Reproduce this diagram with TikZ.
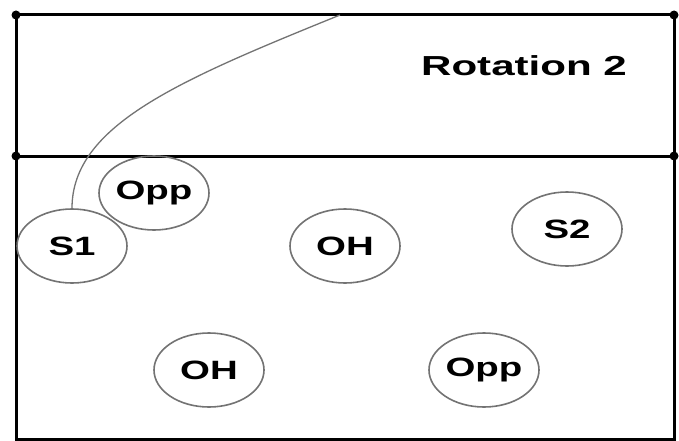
\documentclass[tikz,border=0pt]{standalone}
\usepackage{fontspec}
\setmainfont{Liberation Sans}
\usetikzlibrary{shapes.geometric}
\tikzset{
  court/.style={line width=3pt, black},
  player/.style={ellipse, draw=black!55, line width=1.6pt, minimum width=110pt, minimum height=74pt, inner sep=0pt,
    font=\fontsize{26.5}{26.5}\selectfont\bfseries},
  dotmark/.style={circle, fill=black, inner sep=0pt, minimum size=9pt},
  route/.style={draw=black!55, line width=1.3pt}
}
\newcommand{\widetxt}[1]{\scalebox{1.45}[1]{#1}}
\begin{document}
\begin{tikzpicture}[x=1pt, y=-1pt]
\useasboundingbox (0,0) rectangle (679,441);
\fill[white] (0,0) rectangle (679,441);
% court
\coordinate (tl) at (16,15);
\coordinate (tr) at (674,15);
\coordinate (ml) at (16,156);
\coordinate (mr) at (674,156);
\coordinate (bl) at (16,439);
\coordinate (br) at (674,439);
\draw[court] (tl) -- (tr) -- (br) -- (bl) -- cycle;
\draw[court] (ml) -- (mr);
\node[dotmark] (d1) at (tl) {};
\node[dotmark] (d2) at (tr) {};
\node[dotmark] (d3) at (ml) {};
\node[dotmark] (d4) at (mr) {};
% label
\node[font=\fontsize{27.5}{27.5}\selectfont\bfseries] (rot) at (524,66) {\scalebox{1.53}[1]{Rotation 2}};
% players
\node[player] (s1) at (72,246) {\widetxt{S1}};
\node[player] (opp1) at (154,193) {\widetxt{Opp}};
\node[player] (oh1) at (345,246) {\widetxt{OH}};
\node[player] (s2) at (567,229) {\widetxt{S2}};
\node[player] (oh2) at (209,370) {\widetxt{OH}};
\node[player] (opp2) at (484,370) {\widetxt{Opp}};
% path
\coordinate (start) at (340,15);
\draw[route] (start) .. controls (180,80) and (72,125) .. (s1.north);
\end{tikzpicture}
\end{document}
